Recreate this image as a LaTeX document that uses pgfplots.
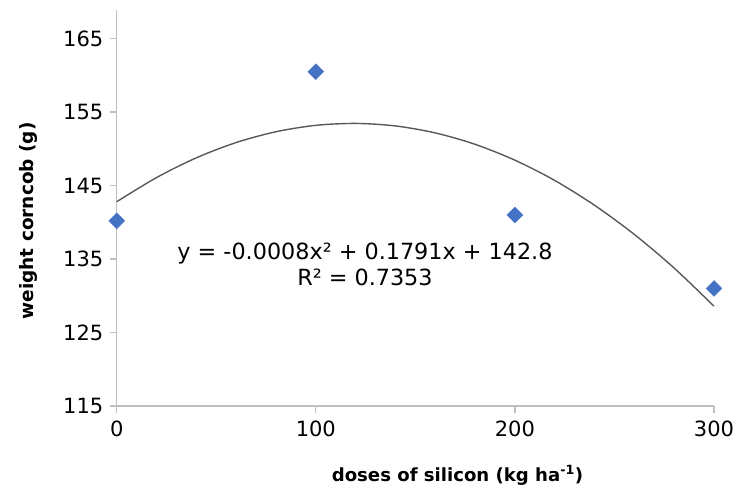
\documentclass[border=0pt]{standalone}
\usepackage{pgfplots}
\pgfplotsset{compat=1.18}
\usepackage{fontspec}
\setmainfont{DejaVu Sans}
\definecolor{axisgray}{HTML}{BFBFBF}
\definecolor{curvegray}{HTML}{595959}
\definecolor{markblue}{HTML}{4472C4}
\begin{document}
\begin{tikzpicture}
\useasboundingbox (0,0) rectangle (742bp,488bp);
\begin{axis}[
  at={(116.7bp,82bp)}, anchor=origin,
  scale only axis,
  width=597.3bp, height=396bp,
  xmin=0, xmax=300,
  ymin=115, ymax=168.9,
  xtick={0,100,200,300},
  ytick={115,125,135,145,155,165},
  axis lines*=left,
  axis line style={color=axisgray, line width=1.3bp},
  tick style={color=axisgray, line width=1.3bp},
  tick align=outside,
  major tick length=6.7bp,
  /pgf/number format/assume math mode=true,
  ticklabel style={font=\fontsize{21bp}{25bp}\selectfont, text=black},
  yticklabel style={anchor=east, inner sep=0pt, xshift=-6.5bp},
  xticklabel style={anchor=north, inner sep=0pt, yshift=-8bp},
  clip=false,
]
\addplot[smooth, color=curvegray, line width=1.4bp] coordinates {
(0,142.80) (20,146.09) (40,148.78) (60,150.86) (80,152.33) (100,153.20)
(120,153.46) (140,153.12) (160,152.17) (180,150.62) (200,148.46)
(220,145.70) (240,142.32) (260,138.35) (280,133.77) (300,128.58)
};
\addplot[only marks, mark=square*, mark size=5.6bp,
  mark options={rotate=45, fill=markblue, draw=markblue}] coordinates {
(0,140.2) (100,160.5) (200,141.0) (300,131.0)
};
\node[anchor=base, font=\fontsize{22.3bp}{26bp}\selectfont] at (axis cs:124.7,135) {y = -0.0008x² + 0.1791x + 142.8};
\node[anchor=base, font=\fontsize{22.3bp}{26bp}\selectfont] at (axis cs:124.7,131.46) {R² = 0.7353};
\end{axis}
\node[anchor=base, font=\bfseries\fontsize{18.1bp}{22bp}\selectfont] at (457.5bp,7bp) {doses of silicon (kg ha\textsuperscript{-1})};
\node[anchor=base, rotate=90, font=\bfseries\fontsize{18.5bp}{22bp}\selectfont] at (33bp,267bp) {weight corncob (g)};
\end{tikzpicture}
\end{document}
